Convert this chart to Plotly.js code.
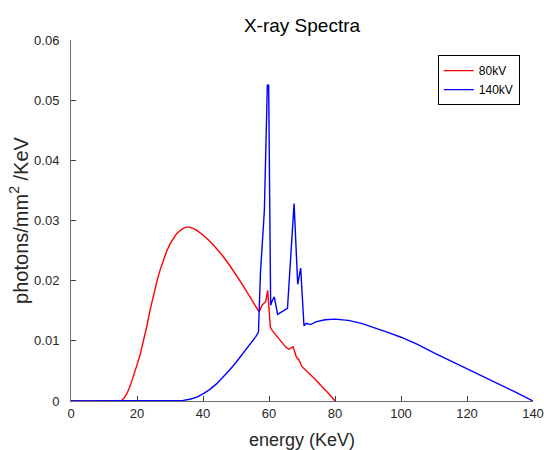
<!DOCTYPE html>
<html>
<head>
<meta charset="utf-8">
<script src="https://cdn.plot.ly/plotly-3.0.1.min.js"></script>
<style>html,body{margin:0;padding:0;background:#fff;}#chart{width:544px;height:450px;}</style>
</head>
<body>
<div id="chart"></div>
<script>
const energy80 = [0, 14, 15, 16, 17, 18, 19, 20, 21, 22, 23, 24, 25, 26, 27, 28, 29, 30, 31, 32, 33, 34, 35, 36, 37, 38, 40, 42, 44, 46, 48, 50, 52, 54, 56, 57, 58, 59, 59.6, 60.4, 61, 62, 63, 64, 65, 66, 67.3, 68.3, 69, 70, 72, 74, 76, 78, 80];
const photons80 = [0, 0, 0, 0.0004, 0.0013, 0.0026, 0.0042, 0.0060, 0.0078, 0.0100, 0.0125, 0.0152, 0.0176, 0.0198, 0.0218, 0.0234, 0.0249, 0.0261, 0.0270, 0.0278, 0.0283, 0.0287, 0.0289, 0.0289, 0.0287, 0.0284, 0.0276, 0.0266, 0.0254, 0.0241, 0.0226, 0.0210, 0.0193, 0.0175, 0.0157, 0.0148, 0.0160, 0.0165, 0.0184, 0.0123, 0.0117, 0.0110, 0.0103, 0.0096, 0.0090, 0.0086, 0.0090, 0.0073, 0.0069, 0.0057, 0.0047, 0.0036, 0.0024, 0.0013, 0];

const energy140 = [0, 32, 34, 36, 38, 40, 42, 44, 46, 48, 50, 52, 54, 56, 56.8, 57.4, 58.6, 59.5, 59.9, 60.5, 61, 61.6, 62.6, 65.6, 67.6, 68.7, 69.6, 70.6, 71.3, 72.6, 74.4, 77, 80, 84, 88, 92, 96, 100, 105, 110, 115, 120, 125, 130, 135, 140];
const photons140 = [0, 0, 0.0001, 0.0003, 0.0006, 0.0012, 0.0019, 0.0028, 0.0039, 0.0051, 0.0064, 0.0078, 0.0092, 0.0107, 0.0114, 0.0212, 0.0317, 0.0525, 0.0525, 0.0159, 0.0167, 0.0173, 0.0144, 0.0154, 0.0328, 0.0194, 0.0221, 0.0125, 0.0129, 0.0127, 0.0132, 0.0135, 0.0136, 0.0134, 0.0129, 0.0122, 0.0114, 0.0106, 0.0094, 0.0080, 0.0067, 0.0054, 0.0041, 0.0028, 0.0014, 0];

const seriesNames = ["80kV", "140kV"];
const xTicks = [0, 20, 40, 60, 80, 100, 120, 140];
const yTicks = [0, 0.01, 0.02, 0.03, 0.04, 0.05, 0.06];

const FONT = "Liberation Sans, Arial, Helvetica, sans-serif";

const traces = [
  {x: energy80, y: photons80, name: seriesNames[0], type: "scatter", mode: "lines",
   line: {color: "#ff0000", width: 1.4}},
  {x: energy140, y: photons140, name: seriesNames[1], type: "scatter", mode: "lines",
   line: {color: "#0000ff", width: 1.4}}
];

const axisCommon = {
  showline: true, linecolor: "#6e6e6e", linewidth: 1, mirror: false,
  ticks: "inside", ticklen: 5, tickwidth: 1, tickcolor: "#404040",
  showgrid: false, zeroline: false,
  tickfont: {family: FONT, size: 13, color: "#262626"},
  automargin: false
};

const layout = {
  width: 544, height: 450,
  margin: {l: 71, r: 11, t: 40, b: 49, pad: 0},
  paper_bgcolor: "#ffffff", plot_bgcolor: "#ffffff",
  font: {family: FONT, color: "#262626"},
  title: {text: "X-ray Spectra", font: {family: FONT, size: 19, color: "#000000"},
          x: 0.5, xref: "paper", xanchor: "center", y: 1 - 25/450, yref: "container", yanchor: "middle"},
  xaxis: Object.assign({}, axisCommon, {
    range: [0, 140], tickvals: xTicks, ticktext: xTicks.map(String),
    title: {text: "energy (KeV)", font: {family: FONT, size: 18, color: "#262626"}, standoff: 14}
  }),
  yaxis: Object.assign({}, axisCommon, {
    range: [0, 0.06], tickvals: yTicks, ticktext: yTicks.map(v => v === 0 ? "0" : v.toFixed(2)),
    ticklabelstandoff: 8,
    title: {text: "photons/mm<sup>2</sup> /KeV", font: {family: FONT, size: 20, color: "#262626"}, standoff: 0}
  }),
  showlegend: true,
  legend: {x: 0.794, y: 0.958, xanchor: "left", yanchor: "top",
           bordercolor: "#000000", borderwidth: 1, bgcolor: "#ffffff",
           font: {family: FONT, size: 12, color: "#000000"},
           tracegroupgap: 0, itemwidth: 30}
};

Plotly.newPlot("chart", traces, layout, {staticPlot: true, displayModeBar: false});
</script>
</body>
</html>
